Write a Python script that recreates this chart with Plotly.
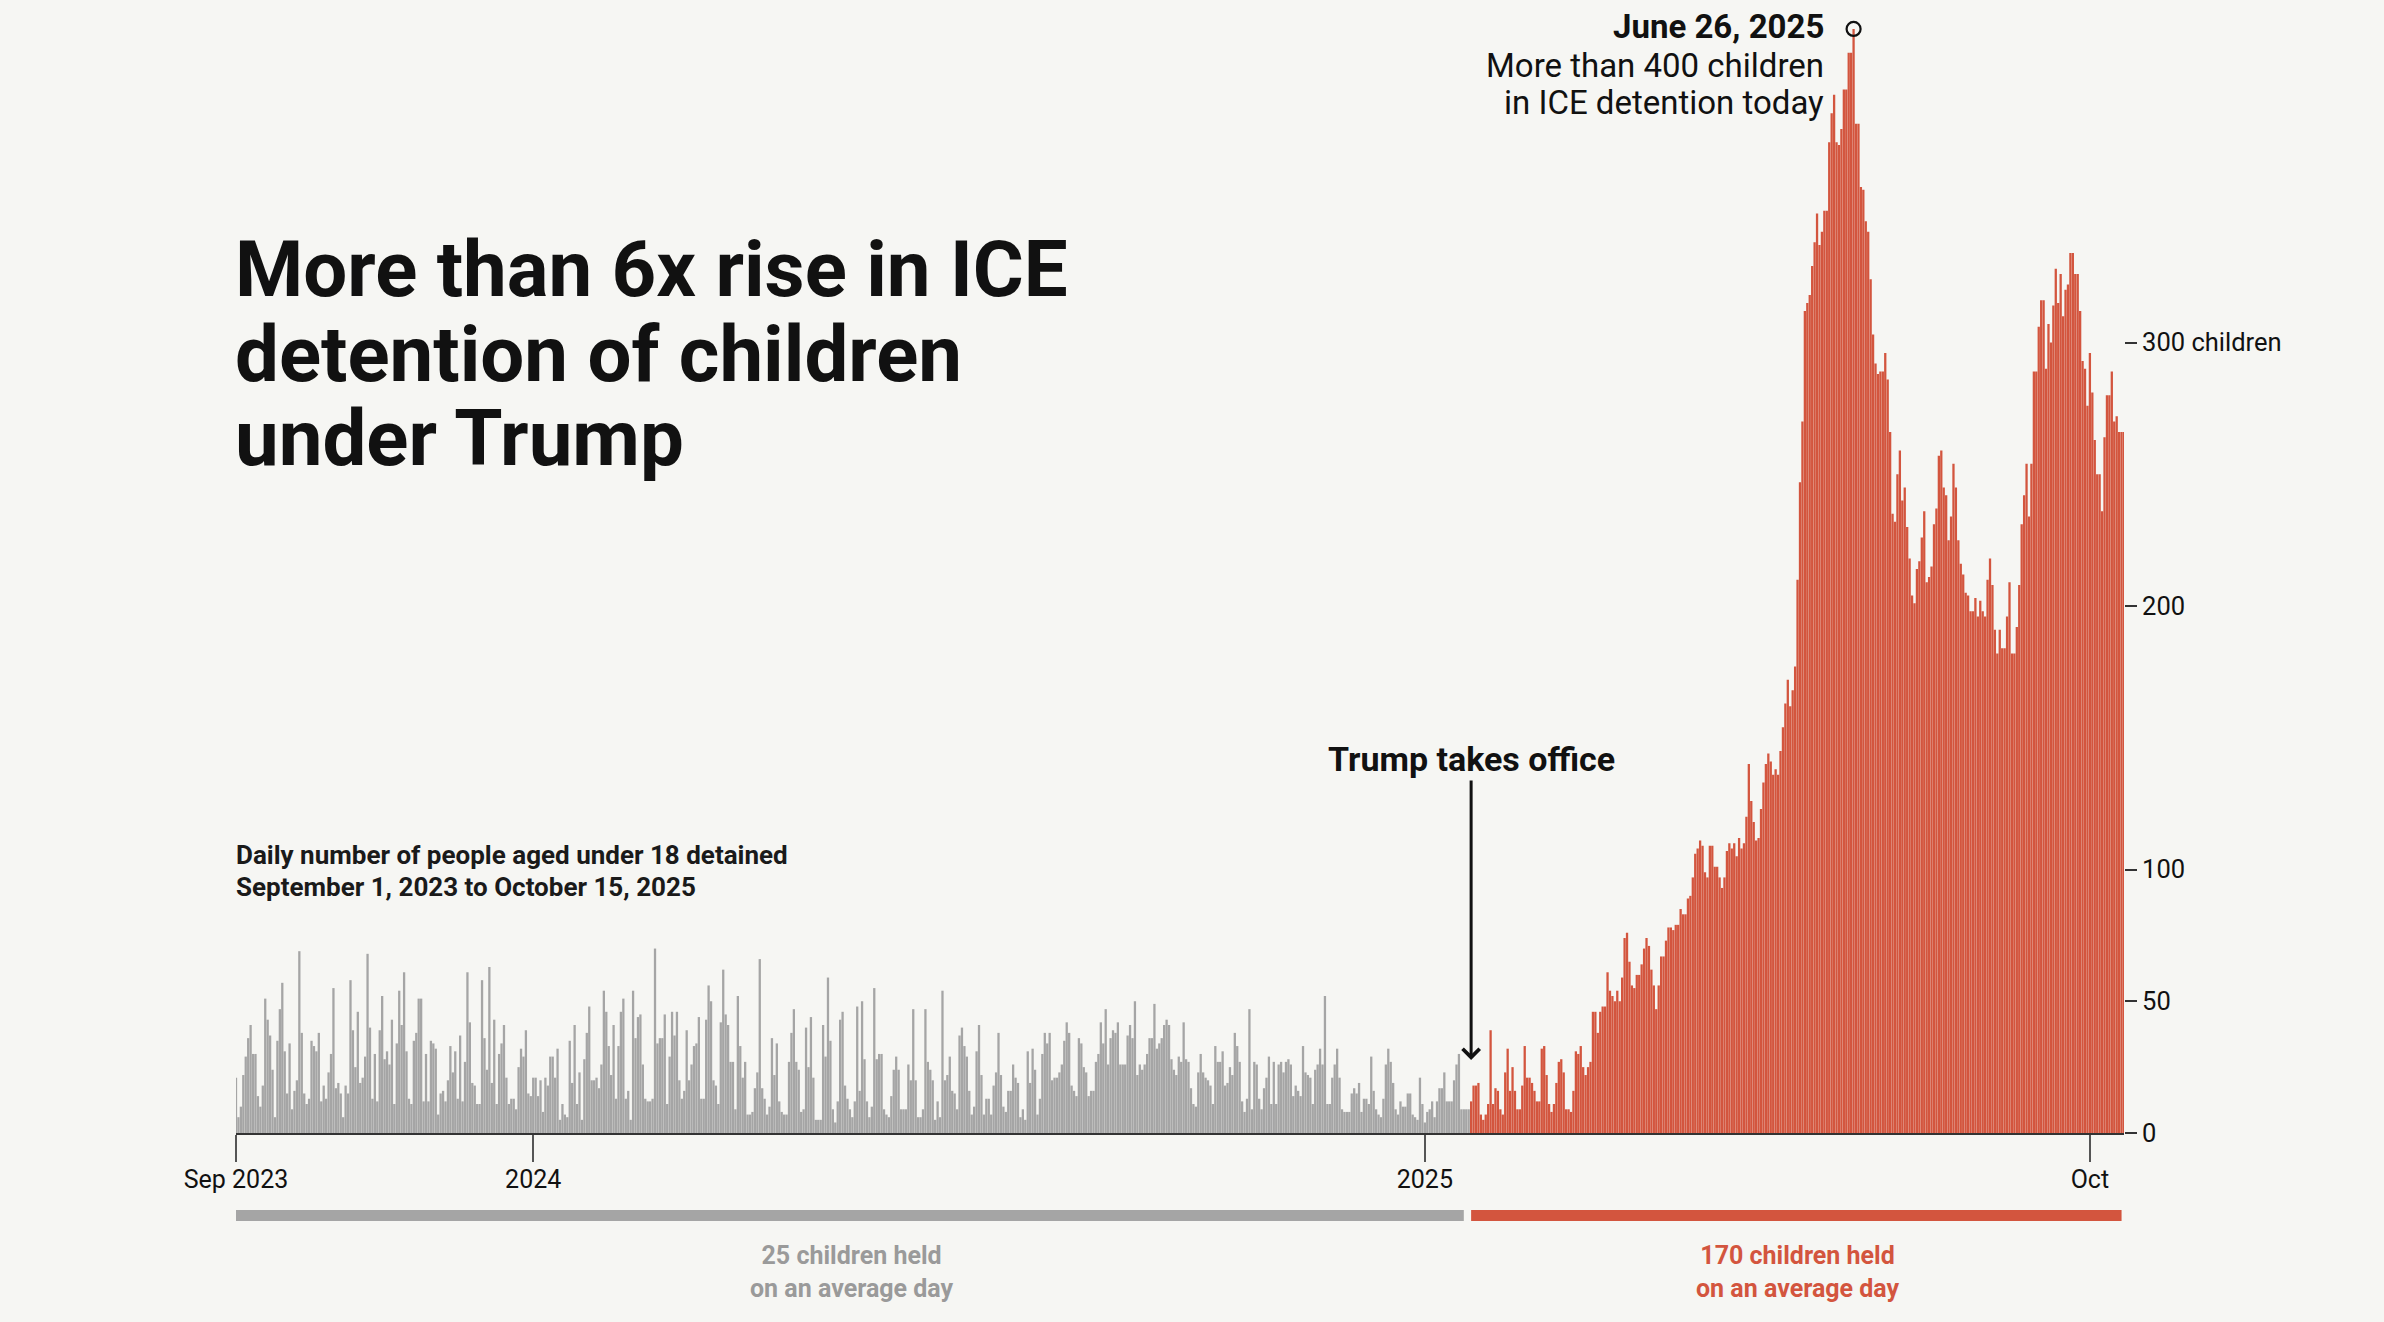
import datetime as dt
import plotly.graph_objects as go

# ---------------- data ----------------
start_date = dt.date(2023, 9, 1)
peak_label = "June 26, 2025"

# daily counts, Sep 1 2023 .. Jan 19 2025 (before Trump takes office)
gray_values = [
    21,6,10,22,29,36,41,30,30,14, 10,18,51,43,37,24,6,35,47,57,
    31,15,34,9,16,20,69,38,15,11, 13,35,33,31,38,12,18,13,23,30,
    55,17,19,15,6,18,15,58,39,25, 46,19,21,29,68,40,13,30,12,39,
    52,28,31,26,43,11,34,54,41,61, 31,13,11,35,38,51,51,12,30,12,
    35,34,32,7,15,16,12,20,33,23, 31,13,37,12,27,61,42,19,18,11,
    11,58,36,24,63,19,43,11,30,34, 41,21,11,13,13,9,25,32,29,39,
    15,14,21,21,14,20,8,21,18,29, 29,21,32,5,11,7,6,35,19,41,
    11,23,5,28,38,48,20,20,21,17, 26,54,46,33,22,41,13,33,46,51,
    13,16,5,54,36,44,45,26,13,12, 12,
    13,70,34,36,36,45,11,29,46,37, 46,20,13,16,39,20,26,33,34,44,
    13,13,43,56,50,20,18,11,42,62, 45,41,27,27,9,52,33,21,27,7,
    7,8,17,23,66,17,13,7,10,36, 22,34,12,8,7,7,27,38,47,27,
    24,8,9,40,25,44,21,5,5,5, 41,29,59,35,9,4,12,43,46,18,
    13,9,6,12,48,16,50,28,12,6, 10,55,28,30,30,9,7,6,14,24,
    29,24,9,9,9,26,20,47,20,6, 6,9,47,27,24,20,5,12,6,54,
    20,22,29,16,15,9,37,40,33,29, 16,7,10,31,41,22,7,13,13,7,
    18,23,38,22,10,8,16,16,26,21, 19,6,9,5,31,19,32,24,7,13,
    30,38,34,38,20,21,21, 23,
    26,35,42,38,18,16,14,36,34,25, 23,14,16,16,27,30,42,34,47,26,
    36,39,38,42,26,26,26,37,41,36, 50,22,26,24,26,30,36,36,49,32,
    34,36,41,43,41,28,24,22,29,27, 42,28,27,17,11,10,23,30,23,21,
    20,18,11,33,27,27,31,18,19,25, 22,38,33,27,12,8,13,47,9,27,
    26,13,9,17,21,29,11,27,11,26, 27,23,27,28,26,14,18,16,14,33,
    23,22,21,11,24,26,32,26,52,11, 11,21,26,32,21,9,8,8,8,15,
    17,15,19,8,13,13,11,29,16,9, 7,6,13,26,32,27,19,9,7,12,
    10,10,15,15,7,6,5,21,11,4, 8,9,12,6,12,17,17,23,12,12,
    12,20,26,30,9,9,9,9,
]

# daily counts, Jan 20 2025 .. Oct 15 2025 (under Trump)
red_values = [
    12,18,18,19,7,5,7,11,39,11, 17,16,9,7,23,32,16,25,16,9,
    9,18,33,21,21,19,16,12,12,32, 33,22,11,8,11,19,27,28,23,9,
    9,8,16,31,30,33,25,22,25,27, 46,46,38,46,48,48,61,54,52,50,
    54,50,59,74,76,65,56,55,60,60, 64,70,74,71,62,56,47,56,67,67,
    73,78,78,77,79,79,85,83,83,89, 90,97,106,108,111,109,99,97,109,109,
    101,101,97,93,97,107,110,108,110,105, 112,108,110,
    120,140,126,118,111,112,123,133,140,144,141,136,138,136,145,154,163,172,162,168,177,210,
    247,270,312,315,318,329,338,349,337,342,350,350,376,387,394,376,375,381,396,396,
    410,410,419,383,383,359,358,346,342,324,303,292,288,289,289,296,286,266,
    235,232,250,259,240,245,230,218,204,201,214,217,226,236,209,211,215,231,237,257,
    259,245,242,225,234,254,245,225,216,212,205,204,198,198,203,196,202,198,196,210,
    218,208,191,182,191,184,184,196,209,182,182,192,208,231,
    242,254,234,254,289,289,306,316,316,290,307,300,314,328,315,326,310,320,322,334,
    334,326,326,312,293,290,276,296,281,263,250,250,236,264,280,280,289,270,272,266,
    266,266,
]

x_tick_dates = ["2023-09-01", "2024-01-01", "2025-01-01", "2025-10-01"]
x_tick_text = ["Sep 2023", "2024", "2025", "Oct"]
y_tick_vals = [0, 50, 100, 200, 300]
y_tick_text = ["0", "50", "100", "200", "300 children"]

title_lines = ["More than 6x rise in ICE", "detention of children", "under Trump"]
subtitle_lines = ["Daily number of people aged under 18 detained", "September 1, 2023 to October 15, 2025"]
peak_lines = ["<b>" + peak_label + "</b>", "More than 400 children", "in ICE detention today"]
gray_avg_text = "25 children held<br>on an average day"
red_avg_text = "170 children held<br>on an average day"

# ---------------- derived ----------------
n_gray = len(gray_values)
gray_dates = [start_date + dt.timedelta(days=i) for i in range(n_gray)]
red_dates = [gray_dates[-1] + dt.timedelta(days=i + 1) for i in range(len(red_values))]
end_date = red_dates[-1]
peak_val = max(red_values)
peak_date = red_dates[red_values.index(peak_val)]

GRAY = "#a5a5a5"
RED = "#d3553e"
BG = "#f6f6f3"
INK = "#111111"
FONT = "Roboto"

half = dt.timedelta(hours=12)
day = dt.timedelta(days=1)

fig = go.Figure()
fig.add_trace(go.Bar(x=gray_dates, y=gray_values, marker=dict(color=GRAY, line=dict(width=0)),
                     hoverinfo="skip", showlegend=False))
fig.add_trace(go.Bar(x=red_dates, y=red_values, marker=dict(color=RED, line=dict(width=0)),
                     hoverinfo="skip", showlegend=False))
fig.add_trace(go.Scatter(x=[peak_date], y=[peak_val], mode="markers",
                         marker=dict(symbol="circle-open", size=14, color=INK, line=dict(width=2.2, color=INK)),
                         hoverinfo="skip", showlegend=False, cliponaxis=False))

W, H = 2384, 1322
ML, MR, MT, MB = 236, 260, 10, 189
plot_h = H - MT - MB
px_per_unit = 2.635
y_max = plot_h / px_per_unit

def py(Y):
    return (H - MB - Y) / plot_h

fig.update_layout(
    width=W, height=H,
    margin=dict(l=ML, r=MR, t=MT, b=MB, pad=0),
    paper_bgcolor=BG, plot_bgcolor=BG,
    bargap=0.06,
    barmode="overlay",
    font=dict(family=FONT, color=INK),
    xaxis=dict(
        type="date",
        range=[start_date - half, end_date + half],
        tickvals=x_tick_dates, ticktext=x_tick_text,
        ticks="outside", ticklen=27, tickwidth=1.5, tickcolor="#555555",
        ticklabelstandoff=-4,
        tickfont=dict(size=25, color=INK, family=FONT),
        showline=True, linecolor="#333333", linewidth=2,
        showgrid=False, zeroline=False, fixedrange=True,
    ),
    yaxis=dict(
        side="right", range=[0, y_max],
        tickvals=y_tick_vals, ticktext=y_tick_text,
        ticks="outside", ticklen=12, tickwidth=1.5, tickcolor="#333333",
        tickfont=dict(size=25.5, color=INK, family=FONT),
        showline=False, showgrid=False, zeroline=False, fixedrange=True,
    ),
)

# period bars under the axis
bar_y0, bar_y1 = py(1221), py(1210)
fig.add_shape(type="rect", xref="x", yref="paper", x0=start_date - half, x1=gray_dates[-1] - 2 * day - half,
              y0=bar_y0, y1=bar_y1, fillcolor=GRAY, line=dict(width=0), layer="above")
fig.add_shape(type="rect", xref="x", yref="paper", x0=red_dates[0] - half, x1=end_date - day,
              y0=bar_y0, y1=bar_y1, fillcolor=RED, line=dict(width=0), layer="above")

gray_mid = gray_dates[0] + (gray_dates[-1] - gray_dates[0]) / 2
red_mid = red_dates[0] + (red_dates[-1] - red_dates[0]) / 2
for mid, txt, col in [(gray_mid, gray_avg_text, "#9a9a9a"), (red_mid, red_avg_text, RED)]:
    fig.add_annotation(x=mid, xref="x", y=py(1272), yref="paper", xanchor="center", yanchor="middle",
                       text="<b>" + txt + "</b>", showarrow=False,
                       font=dict(size=25, color=col, family=FONT), align="center")

# title (one annotation per line for tight leading)
for line, Y in zip(title_lines, [269, 354, 438]):
    fig.add_annotation(x=0, xref="paper", y=py(Y), yref="paper", xanchor="left", yanchor="middle",
                       xshift=-3, text="<b>" + line + "</b>", showarrow=False,
                       font=dict(size=78, color=INK, family=FONT), align="left")

# subtitle
for line, Y in zip(subtitle_lines, [855, 887]):
    fig.add_annotation(x=0, xref="paper", y=py(Y), yref="paper", xanchor="left", yanchor="middle",
                       xshift=-2, text="<b>" + line + "</b>", showarrow=False,
                       font=dict(size=26, color="#1a1a1a", family=FONT), align="left")

# Trump takes office arrow
fig.add_annotation(x=red_dates[0], xref="x", y=(H - MB - 1060) / px_per_unit, yref="y",
                   ax=0, ay=-301, text="<b>Trump takes office</b>",
                   showarrow=True, arrowhead=4, arrowsize=1.1, arrowwidth=3, arrowcolor=INK,
                   standoff=0, font=dict(size=34, color=INK, family=FONT))

# peak annotation, one line each
peak_px = H - MB - peak_val * px_per_unit
for line, Y in zip(peak_lines, [26, 65, 102]):
    fig.add_annotation(x=peak_date, xref="x", y=peak_val, yref="y", xanchor="right", yanchor="middle",
                       xshift=-28, yshift=peak_px - Y, align="right", showarrow=False,
                       text=line, font=dict(size=33, color=INK, family=FONT))

fig.write_html("out.html", include_plotlyjs=True, config={"displayModeBar": False},
               post_script="document.body.style.margin='0';")
